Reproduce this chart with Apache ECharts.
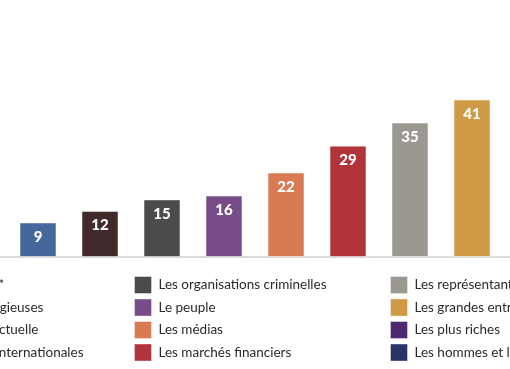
<!DOCTYPE html>
<html><head><meta charset="utf-8">
<script src="https://cdn.jsdelivr.net/npm/echarts@6/dist/echarts.min.js"></script>
<style>html,body{margin:0;padding:0;background:#fff}#c{width:510px;height:369px}</style>
</head><body><div id="c"></div>
<script>
// categories (legend order); the first two and last two are outside the visible crop
const categories = [
  "Les gouvernants*",
  "Les autorités religieuses",
  "La sphère intellectuelle",
  "Les institutions internationales",
  "Les organisations criminelles",
  "Le peuple",
  "Les médias",
  "Les marchés financiers",
  "Les représentants politiques",
  "Les grandes entreprises",
  "Les plus riches",
  "Les hommes et les femmes politiques"
];
// values (null = bar not visible in the crop)
const values = [null, null, 9, 12, 15, 16, 22, 29, 35, 41, null, null];
const colors = ["#6b6b6b", "#8a6d3b", "#46679c", "#422a2c", "#4b4b4b", "#774c88", "#d87a52", "#b1343a", "#9a9891", "#cf9945", "#4b2a70", "#283466"];
const legendColumns = [categories.slice(0, 4), categories.slice(4, 8), categories.slice(8, 12)];

const chart = echarts.init(document.getElementById('c'), null, {renderer: 'canvas'});
const series = categories.map((name, i) => ({
  name: name,
  type: 'bar',
  stack: 'all',
  barWidth: 37,
  itemStyle: {color: colors[i], borderColor: 'rgba(255,255,255,0.5)', borderWidth: 1},
  label: {
    show: true, position: 'insideTop', distance: 7,
    color: '#fff', fontFamily: 'Lato', fontWeight: 900, fontSize: 15
  },
  data: categories.map((c, j) => (j === i ? values[i] : null))
}));
const legendLefts = [-122, 134, 390];
chart.setOption({
  animation: false,
  grid: {left: -117, width: 744, top: 65, height: 192, outerBoundsMode: 'none', containLabel: false},
  xAxis: {
    type: 'category', data: categories,
    axisLine: {lineStyle: {color: '#cfcfcf', width: 1.5}},
    axisTick: {show: false}, axisLabel: {show: false}
  },
  yAxis: {type: 'value', min: 0, max: 50, show: false, splitLine: {show: false}},
  legend: legendColumns.map((col, k) => ({
    orient: 'vertical', left: legendLefts[k], top: 276, padding: 0,
    itemWidth: 17, itemHeight: 17, itemGap: 4.5, icon: 'rect',
    selectedMode: false,
    itemStyle: {borderColor: 'rgba(255,255,255,0.4)', borderWidth: 1},
    textStyle: {fontFamily: 'Lato', fontSize: 13.5, color: '#2a2a2a', padding: [0, 0, 0, 2]},
    data: col
  })),
  series: series
});
</script></body></html>
